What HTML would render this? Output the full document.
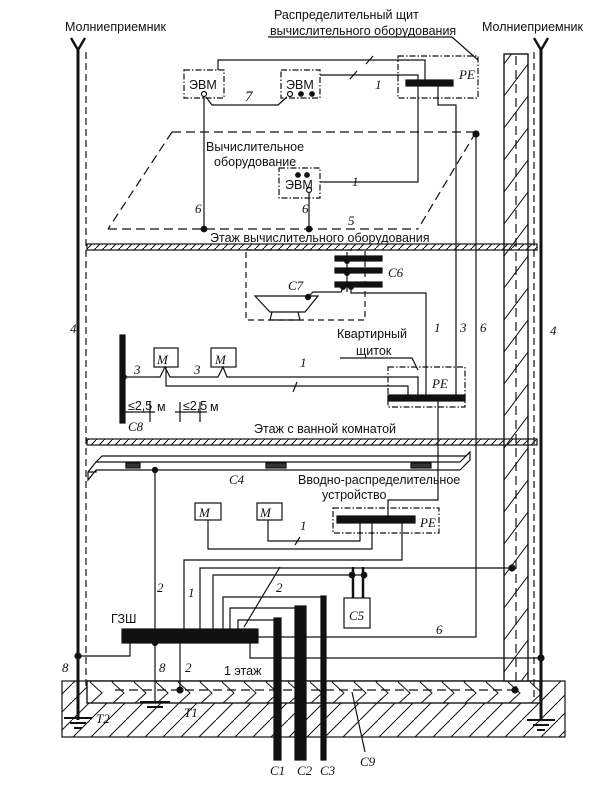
<!DOCTYPE html>
<html><head><meta charset="utf-8"><style>
html,body{margin:0;padding:0;background:#fff}
svg{display:block}
text{font-family:"Liberation Serif",serif;fill:#111}
.s{font-family:"Liberation Sans Narrow","Liberation Sans",sans-serif;font-size:12.5px}
.i{font-style:italic;font-size:13px}
</style></head><body>
<svg width="600" height="786" viewBox="0 0 600 786" xmlns="http://www.w3.org/2000/svg">
<defs>
<pattern id="h" width="8" height="8" patternUnits="userSpaceOnUse"><path d="M0,8 L8,0" stroke="#111" stroke-width="1"/></pattern>
<pattern id="hc" width="24" height="32" patternUnits="userSpaceOnUse"><path d="M0,32 L24,0" stroke="#111" stroke-width="1"/></pattern>
<pattern id="hg" width="18" height="18" patternUnits="userSpaceOnUse"><path d="M0,18 L18,0" stroke="#111" stroke-width="1"/></pattern>
<pattern id="chev" width="22" height="22" patternUnits="userSpaceOnUse"><path d="M2,0 L14,11 L2,22" stroke="#111" stroke-width="1" fill="none"/></pattern>
</defs>
<g stroke="#111" fill="none" stroke-width="1.2">
<rect x="62" y="681" width="503" height="56" fill="url(#hg)"/>
<rect x="87" y="681" width="453" height="22" fill="#fff"/>
<rect x="87" y="681" width="453" height="22" fill="url(#chev)"/>
<line x1="115" y1="690" x2="520" y2="690" stroke-dasharray="9,5"/>
<line x1="78" y1="48" x2="78" y2="720" stroke-width="3"/>
<line x1="86" y1="52" x2="86" y2="690" stroke-dasharray="7,4"/>
<path d="M71,38 L78,50 L85,38" stroke-width="2.4"/>
<rect x="504" y="54" width="24" height="627" fill="#fff"/>
<rect x="504" y="54" width="24" height="627" fill="url(#hc)"/>
<line x1="516" y1="56" x2="516" y2="690" stroke-dasharray="9,5"/>
<line x1="534" y1="52" x2="534" y2="700" stroke-dasharray="7,4"/>
<line x1="541" y1="48" x2="541" y2="720" stroke-width="3"/>
<path d="M534,38 L541,50 L548,38" stroke-width="2.4"/>
<rect x="87" y="244" width="450" height="6" fill="url(#h)"/>
<rect x="87" y="439" width="450" height="6" fill="url(#h)"/>
<g stroke-width="2"><line x1="64" y1="718" x2="92" y2="718"/><line x1="70" y1="723" x2="86" y2="723"/><line x1="74" y1="728" x2="82" y2="728"/>
<line x1="140" y1="702" x2="170" y2="702"/><line x1="147" y1="707" x2="163" y2="707"/>
<line x1="527" y1="720" x2="555" y2="720"/><line x1="533" y1="725" x2="549" y2="725"/><line x1="537" y1="730" x2="545" y2="730"/></g>
<path d="M268,37 L452,37 L478,60"/>
<g stroke-dasharray="6,2,1.5,2"><rect x="184" y="70" width="40" height="28"/><rect x="281" y="70" width="39" height="28"/><rect x="279" y="168" width="41" height="30"/>
<rect x="398" y="56" width="80" height="42"/><rect x="388" y="367" width="77" height="40"/><rect x="333" y="508" width="106" height="25"/></g>
<circle cx="204" cy="94" r="2.5" fill="#fff"/><circle cx="290" cy="94" r="2.5" fill="#fff"/>
<circle cx="301" cy="94" r="2.3" fill="#111"/><circle cx="312" cy="94" r="2.3" fill="#111"/>
<circle cx="298" cy="175" r="2.3" fill="#111"/><circle cx="307" cy="175" r="2.3" fill="#111"/><circle cx="309" cy="190" r="2.5" fill="#fff"/>
<path d="M218,70 L218,60 L425,60 L425,80"/>
<path d="M320,75 L418,75 L418,80"/>
<path d="M366,64 L373,56 M350,79 L357,71"/>
<rect x="406" y="80" width="47" height="6" fill="#111"/>
<path d="M418,86 L418,182 L320,182"/>
<path d="M438,86 L438,105 L456,105 L456,395"/>
<path d="M206,97 L212,105 L278,105 L287,97"/>
<path d="M204,97 L204,229 M309,193 L309,229"/>
<path d="M172,132 L476,132 M476,132 L418,229 M108,229 L418,229 M172,132 L108,229" stroke-dasharray="9,5"/>
<circle cx="476" cy="134" r="3" fill="#111"/><circle cx="204" cy="229" r="2.8" fill="#111"/><circle cx="309" cy="229" r="2.8" fill="#111"/>
<path d="M476,134 L476,637 L257,637"/>
<rect x="246" y="250" width="119" height="70" stroke-dasharray="6,4"/>
<rect x="335" y="256" width="47" height="5" fill="#111"/><rect x="335" y="268" width="47" height="5" fill="#111"/><rect x="335" y="282" width="47" height="5" fill="#111"/>
<line x1="347" y1="252" x2="347" y2="292"/>
<circle cx="347" cy="261" r="2.4" fill="#111"/><circle cx="347" cy="273" r="2.4" fill="#111"/><circle cx="343" cy="287" r="2.4" fill="#111"/><circle cx="351" cy="287" r="2.4" fill="#111"/>
<path d="M255,296 L318,296 L305,312 L270,312 Z M272,312 L270,320 L300,320 L298,312"/>
<circle cx="308" cy="297" r="2.6" fill="#111"/>
<path d="M308,297 L313,292 L341,292 L343,288"/>
<path d="M351,290 L351,293 L426,293 L426,396"/>
<path d="M340,358 L412,358 L418,370"/>
<rect x="388" y="395" width="77" height="6" fill="#111"/>
<rect x="120" y="335" width="5" height="88" fill="#111"/>
<rect x="154" y="348" width="24" height="19"/><rect x="211" y="348" width="25" height="19"/>
<path d="M124,377 L160,377 L165,367 L170,377 L218,377 L223,367 L227,377 L418,377 L418,395"/>
<path d="M166,367 L166,386 L408,386 L408,395"/>
<circle cx="124" cy="377" r="2.3" fill="#111"/>
<path d="M293,392 L297,382"/>
<path d="M124,412 L155,412 M150,402 L150,422 M175,412 L207,412 M180,402 L180,422 M200,402 L200,422"/>
<path d="M438,401 L438,500 L388,500 L388,516"/>
<path d="M96,462 L460,462 L470,452 L470,460 L460,470 L96,470 L88,480 L88,472 L96,462 M88,472 L96,472 L96,470"/>
<path d="M96,462 L102,456 L466,456 L470,452"/>
<rect x="126" y="463" width="14" height="5" fill="#333"/><rect x="266" y="463" width="20" height="5" fill="#333"/><rect x="411" y="463" width="20" height="5" fill="#333"/>
<circle cx="155" cy="470" r="2.6" fill="#111"/>
<line x1="155" y1="470" x2="155" y2="630"/>
<rect x="195" y="503" width="26" height="17"/><rect x="257" y="503" width="25" height="17"/>
<rect x="337" y="516" width="78" height="7" fill="#111"/>
<path d="M208,520 L208,549 L372,549 L372,523"/>
<path d="M268,520 L268,541 L360,541 L360,523"/>
<path d="M295,545 L300,537"/>
<path d="M402,523 L402,560 L184,560 L184,630"/>
<path d="M200,630 L200,568 L512,568"/><circle cx="512" cy="568" r="3" fill="#111"/>
<path d="M213,630 L213,575 L365,575"/>
<path d="M353,567 L353,598 M363,567 L363,598" stroke-width="2.5"/>
<circle cx="352" cy="575" r="2.8" fill="#111"/><circle cx="364" cy="575" r="2.8" fill="#111"/>
<rect x="344" y="598" width="26" height="30"/>
<path d="M223,630 L223,597 L322,597"/>
<path d="M230,630 L230,608 L297,608"/>
<path d="M238,630 L238,620 L275,620"/>
<rect x="321" y="596" width="5" height="164" fill="#111"/>
<rect x="295" y="606" width="11" height="154" fill="#111"/>
<rect x="274" y="618" width="7" height="142" fill="#111"/>
<path d="M244,627 L280,567"/>
<rect x="122" y="629" width="136" height="14" fill="#111"/>
<path d="M130,643 L130,656 L78,656"/><circle cx="78" cy="656" r="3" fill="#111"/>
<path d="M250,643 L250,658 L541,658"/><circle cx="541" cy="658" r="3" fill="#111"/>
<path d="M155,643 L155,702"/><circle cx="155" cy="643" r="2.5" fill="#111"/>
<path d="M180,643 L180,690"/><circle cx="180" cy="690" r="3" fill="#111"/>
<circle cx="515" cy="690" r="3" fill="#111"/>
<path d="M365,752 L352,692"/>
</g>
<g>
<text class="s" x="65" y="31">Молниеприемник</text>
<text class="s" x="482" y="31">Молниеприемник</text>
<text class="s" x="274" y="19">Распределительный щит</text>
<text class="s" x="270" y="35">вычислительного оборудования</text>
<text class="s" x="189" y="89">ЭВМ</text><text class="s" x="286" y="89">ЭВМ</text><text class="s" x="285" y="189">ЭВМ</text>
<text class="i" x="459" y="79">PE</text><text class="i" x="432" y="388">PE</text><text class="i" x="420" y="527">PE</text>
<text class="i" x="245" y="101" style="font-size:15px">7</text>
<text class="i" x="375" y="89">1</text><text class="i" x="352" y="186">1</text>
<text class="s" x="206" y="151">Вычислительное</text>
<text class="s" x="214" y="166">оборудование</text>
<text class="i" x="195" y="213">6</text><text class="i" x="302" y="213">6</text><text class="i" x="348" y="225">5</text>
<text class="s" x="210" y="242">Этаж вычислительного оборудования</text>
<text class="i" x="388" y="277">C6</text><text class="i" x="288" y="290">C7</text>
<text class="i" x="70" y="333">4</text><text class="i" x="550" y="335">4</text>
<text class="i" x="434" y="332">1</text><text class="i" x="460" y="332">3</text><text class="i" x="480" y="332">6</text>
<text class="s" x="337" y="338">Квартирный</text><text class="s" x="356" y="355">щиток</text>
<text class="i" x="134" y="374">3</text><text class="i" x="194" y="374">3</text><text class="i" x="300" y="367">1</text>
<text class="i" x="157" y="364">M</text><text class="i" x="215" y="364">M</text>
<text class="i" x="199" y="517">M</text><text class="i" x="260" y="517">M</text>
<text class="s" x="128" y="410">≤2,5</text><text class="s" x="157" y="411">м</text>
<text class="s" x="183" y="410">≤2,5</text><text class="s" x="210" y="411">м</text>
<text class="i" x="128" y="431">C8</text>
<text class="s" x="254" y="433">Этаж с ванной комнатой</text>
<text class="i" x="229" y="484">C4</text>
<text class="s" x="298" y="484">Вводно-распределительное</text>
<text class="s" x="322" y="499">устройство</text>
<text class="i" x="300" y="530">1</text>
<text class="i" x="157" y="592">2</text><text class="i" x="188" y="597">1</text><text class="i" x="276" y="592">2</text>
<text class="i" x="349" y="620">C5</text>
<text class="s" x="111" y="623">ГЗШ</text>
<text class="i" x="436" y="634">6</text>
<text class="i" x="62" y="672">8</text><text class="i" x="159" y="672">8</text><text class="i" x="185" y="672">2</text>
<text class="s" x="224" y="675">1 этаж</text>
<text class="i" x="96" y="723">T2</text><text class="i" x="184" y="717">T1</text>
<text class="i" x="270" y="775">C1</text><text class="i" x="297" y="775">C2</text><text class="i" x="320" y="775">C3</text><text class="i" x="360" y="766">C9</text>
</g>
</svg>
</body></html>
